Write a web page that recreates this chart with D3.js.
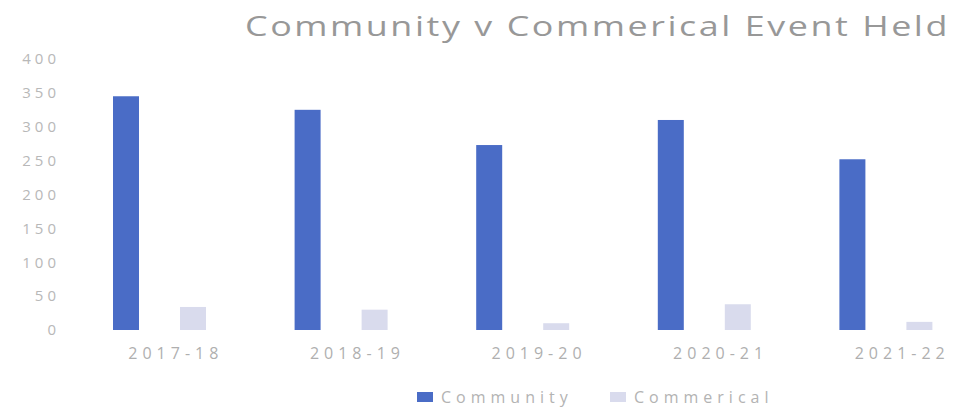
<!DOCTYPE html>
<html><head><meta charset="utf-8">
<script src="https://cdn.jsdelivr.net/npm/d3@7"></script>
<style>body{margin:0;background:#fff}svg{display:block}text{font-family:"Open Sans",sans-serif}</style>
</head><body>
<svg id="c" width="958" height="410"></svg>
<script>
const categories = ["2017-18","2018-19","2019-20","2020-21","2021-22"];
const seriesNames = ["Community","Commerical"];
const community = [345, 325, 273, 310, 252];
const commercial = [34, 30, 10, 38, 12];
const yTicks = [0,50,100,150,200,250,300,350,400];
const colors = {Community:"#4a6cc6", Commerical:"#d9dbed"};

const svg = d3.select("#c");
const x0 = d3.scaleBand().domain(categories).range([70, 978]).padding(0);
const x1 = d3.scaleBand().domain(seriesNames).range([43, 136]).paddingInner(0.612).paddingOuter(0);
const y = d3.scaleLinear().domain([0,400]).range([330, 59]);

const rows = categories.map((c,i)=>({cat:c, vals:[{k:"Community",v:community[i]},{k:"Commerical",v:commercial[i]}]}));

const g = svg.append("g");
g.selectAll("g.grp").data(rows).join("g").attr("class","grp")
  .attr("transform", d=>`translate(${x0(d.cat)},0)`)
  .selectAll("rect").data(d=>d.vals).join("rect")
  .attr("x", d=>x1(d.k)).attr("width", x1.bandwidth())
  .attr("y", d=>y(d.v)).attr("height", d=>y(0)-y(d.v))
  .attr("fill", d=>colors[d.k]);

// y axis
const ya = d3.axisLeft(y).tickValues(yTicks).tickSize(0).tickPadding(0);
const yg = svg.append("g").attr("transform","translate(60,0)").call(ya);
yg.select(".domain").remove();
yg.selectAll("text").attr("fill","#b8b8b8").style("font-size","15px").style("letter-spacing","4px");

// x axis
const xa = d3.axisBottom(x0).tickSize(0).tickPadding(0);
const xg = svg.append("g").attr("transform","translate(15,348)").call(xa);
xg.select(".domain").remove();
xg.selectAll("text").attr("fill","#afafaf").style("font-size","16px").style("letter-spacing","5px").attr("dy","0.71em");

// title
svg.append("text").attr("x", 245).attr("y", 36)
  .attr("textLength", 705).attr("lengthAdjust","spacingAndGlyphs")
  .attr("fill","#989898").style("font-size","28px").style("letter-spacing","2px")
  .text("Community v Commerical Event Held");

// legend
const leg = svg.append("g").attr("transform","translate(417,397)");
const items = [{k:"Community", x:0},{k:"Commerical", x:193}];
const li = leg.selectAll("g").data(items).join("g").attr("transform", d=>`translate(${d.x},0)`);
li.append("rect").attr("x",0).attr("y",-5).attr("width",16).attr("height",10).attr("fill",d=>colors[d.k]);
li.append("text").attr("x",24).attr("y",0).attr("dy","0.35em").attr("fill","#b3b3b3")
  .style("font-size","16px").style("letter-spacing","5px").text(d=>d.k);
</script>
</body></html>
